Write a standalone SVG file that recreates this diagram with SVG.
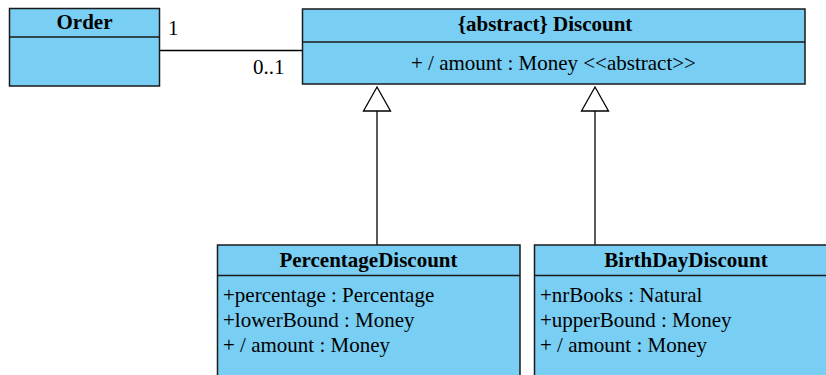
<svg xmlns="http://www.w3.org/2000/svg" width="826" height="375" viewBox="0 0 826 375">
<style>
.box{fill:#79CEF3;stroke:#1a1a1a;stroke-width:1.5}
.div{stroke:#1a1a1a;stroke-width:1.5}
.t{font-family:"Liberation Serif","Times New Roman",serif;font-size:21px;fill:#000}
.b{font-weight:bold;text-anchor:middle}
.c{text-anchor:middle}
.ln{stroke:#000;stroke-width:1.3;fill:none}
.tri{fill:#fff;stroke:#000;stroke-width:1.3}
</style>
<rect width="826" height="375" fill="#fff"/>
<g id="connectors">
<line class="ln" x1="159" y1="50.5" x2="302" y2="50.5"/>
<text class="t" x="168" y="35">1</text>
<text class="t" x="253" y="74">0..1</text>
<line class="ln" x1="377" y1="111" x2="377" y2="245"/>
<polygon class="tri" points="377,87 363.5,111 390.5,111"/>
<line class="ln" x1="595" y1="111" x2="595" y2="245"/>
<polygon class="tri" points="595,87 581.5,111 608.5,111"/>
</g>
<g id="Order">
<rect class="box" x="9.5" y="8.5" width="150" height="77.5"/>
<line class="div" x1="9.5" y1="37" x2="159.5" y2="37"/>
<text class="t b" x="84.5" y="29">Order</text>
</g>
<g id="Discount">
<rect class="box" x="302.5" y="9" width="502.5" height="75"/>
<line class="div" x1="302.5" y1="42" x2="805" y2="42"/>
<text class="t b" x="545" y="31">{abstract} Discount</text>
<text class="t c" x="553.5" y="70">+ / amount : Money &lt;&lt;abstract&gt;&gt;</text>
</g>
<g id="PercentageDiscount">
<rect class="box" x="217.5" y="245" width="302.5" height="140"/>
<line class="div" x1="217.5" y1="275.5" x2="520" y2="275.5"/>
<text class="t b" x="368.5" y="267">PercentageDiscount</text>
<text class="t" x="223" y="302">+percentage : Percentage</text>
<text class="t" x="223" y="327">+lowerBound : Money</text>
<text class="t" x="223" y="352">+ / amount : Money</text>
</g>
<g id="BirthDayDiscount">
<rect class="box" x="534.5" y="245" width="303" height="140"/>
<line class="div" x1="534.5" y1="275.5" x2="837.5" y2="275.5"/>
<text class="t b" x="686" y="267">BirthDayDiscount</text>
<text class="t" x="540" y="302">+nrBooks : Natural</text>
<text class="t" x="540" y="327">+upperBound : Money</text>
<text class="t" x="540" y="352">+ / amount : Money</text>
</g>
</svg>
